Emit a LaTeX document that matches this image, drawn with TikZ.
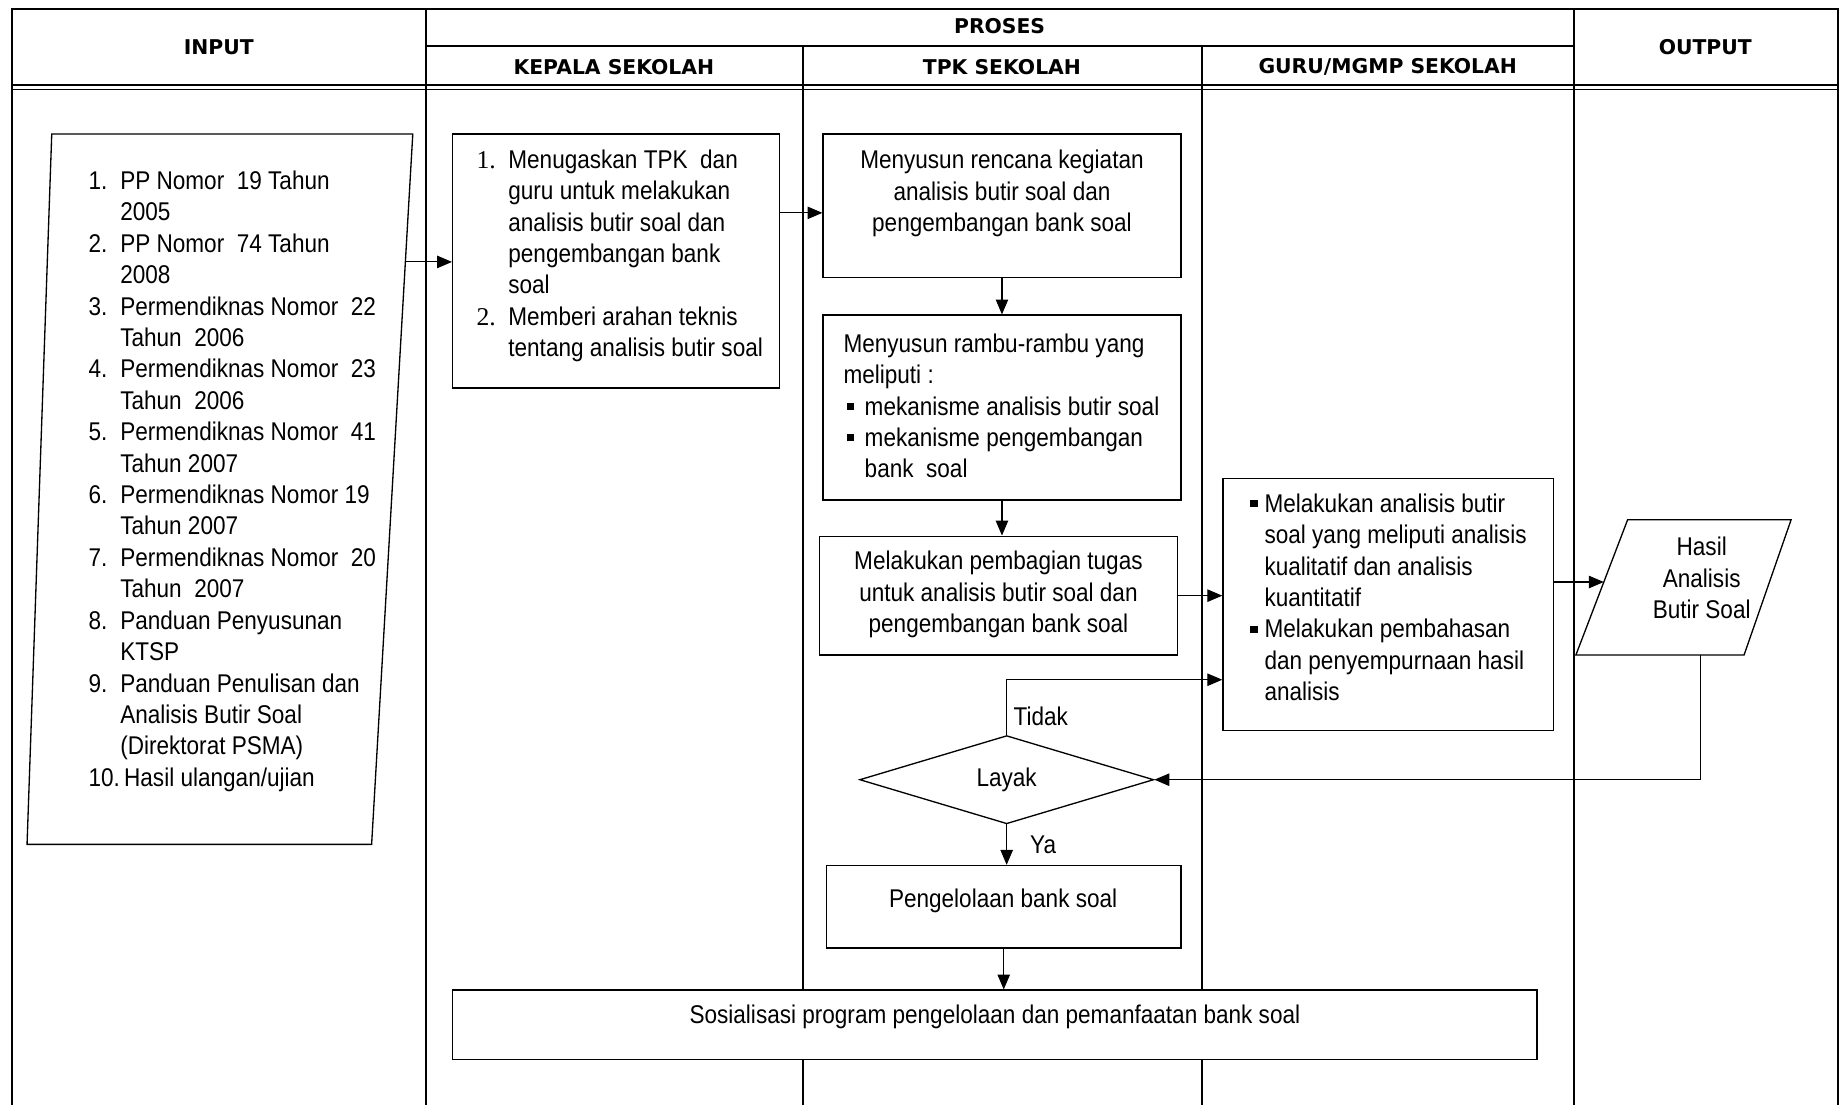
\documentclass[tikz,border=0pt]{standalone}
\usepackage{fontspec}
\setmainfont[FakeStretch=0.88]{Liberation Sans}
\newfontfamily\headfont{DejaVu Sans}
\newfontfamily\numfont{Liberation Serif}
\usetikzlibrary{arrows.meta, positioning, shapes, calc}

\newcommand{\sqbul}{\raisebox{0.2em}{\rule{0.28em}{0.28em}}}
\newcommand{\txtsize}{\fontsize{15.5}{19}\selectfont}

\begin{document}
\begin{tikzpicture}[x=0.025cm, y=-0.025cm,
    lane/.style={line width=1.2pt},
    box/.style={draw, fill=white, rectangle, line width=0.9pt, inner sep=0pt},
    flow/.style={-{Triangle[length=9pt, width=7.5pt]}, line width=0.7pt},
    head/.style={font=\headfont\bfseries\fontsize{12.3}{14}\selectfont, inner sep=0pt},
    txt/.style={font=\txtsize, inner sep=0pt, anchor=base},
    lbl/.style={font=\txtsize, inner sep=0pt}]

    \useasboundingbox (0,0) rectangle (1568,940);

    % Swimlanes
    \draw[lane] (10,940) -- (10,8) -- (1563,8) -- (1563,940);
    \draw[lane] (362,8) -- (362,940);
    \draw[lane] (1338,8) -- (1338,940);
    \draw[lane] (683,39) -- (683,940);
    \draw[lane] (1022,39) -- (1022,940);
    \draw[lane] (362,39) -- (1338,39);
    \draw[lane] (10,72) -- (1563,72);
    \draw[line width=0.8pt] (10,76) -- (1563,76);

    % Header texts
    \node[head] (hInput) at (186,40) {INPUT};
    \node[head] (hProses) at (850,22) {PROSES};
    \node[head] (hKepala) at (522,57) {KEPALA SEKOLAH};
    \node[head] (hTpk) at (852,57) {TPK SEKOLAH};
    \node[head] (hGuru) at (1180,57) {GURU/MGMP SEKOLAH};
    \node[head] (hOutput) at (1450,40) {OUTPUT};

    % Input (data shape)
    \draw[line width=0.8pt] (44,114) coordinate (inTL) -- (351,114) coordinate (inTR)
        -- (316,718) coordinate (inBR) -- (23,718) coordinate (inBL) -- cycle;
    \coordinate (inOut) at ($(inTR)!0.18!(inBR)$);
    \node[txt, anchor=base west] (dasar) at (75,161) {\begin{tabular}[t]{@{}p{0.675cm}@{}l@{}}
        1. & PP Nomor\ \ 19 Tahun\\
           & 2005\\
        2. & PP Nomor\ \ 74 Tahun\\
           & 2008\\
        3. & Permendiknas Nomor\ \ 22\\
           & Tahun\ \ 2006\\
        4. & Permendiknas Nomor\ \ 23\\
           & Tahun\ \ 2006\\
        5. & Permendiknas Nomor\ \ 41\\
           & Tahun 2007\\
        6. & Permendiknas Nomor 19\\
           & Tahun 2007\\
        7. & Permendiknas Nomor\ \ 20\\
           & Tahun\ \ 2007\\
        8. & Panduan Penyusunan\\
           & KTSP\\
        9. & Panduan Penulisan dan\\
           & Analisis Butir Soal\\
           & (Direktorat PSMA)\\
        \multicolumn{2}{@{}l@{}}{10.\,Hasil ulangan/ujian}
    \end{tabular}};

    % Kepala sekolah
    \node[box, minimum width=6.95cm, minimum height=5.4cm] (kepala) at (524,222) {};
    \node[txt, anchor=base west] (tugasKS) at (405,143) {\begin{tabular}[t]{@{}p{0.675cm}@{}l@{}}
        {\numfont 1.} & Menugaskan TPK\ \ dan\\
           & guru untuk melakukan\\
           & analisis butir soal dan\\
           & pengembangan bank\\
           & soal\\
        {\numfont 2.} & Memberi arahan teknis\\
           & tentang analisis butir soal
    \end{tabular}};

    % TPK sekolah
    \node[box, minimum width=7.6cm, minimum height=3.05cm] (rencana) at (852,175) {};
    \node[txt] (rencanaT) at (852,143.5) {\begin{tabular}[t]{@{}c@{}}
        Menyusun rencana kegiatan\\ analisis butir soal dan\\ pengembangan bank soal
    \end{tabular}};

    \node[box, minimum width=7.6cm, minimum height=3.925cm] (rambu) at (852,346.5) {};
    \node[txt, anchor=base west] (rambuT) at (717,299.5) {\begin{tabular}[t]{@{}p{0.45cm}@{}l@{}}
        \multicolumn{2}{@{}l@{}}{Menyusun rambu-rambu yang}\\
        \multicolumn{2}{@{}l@{}}{meliputi :}\\
        \hspace{0.075cm}\sqbul & mekanisme analisis butir soal\\
        \hspace{0.075cm}\sqbul & mekanisme pengembangan\\
           & bank\ \ soal
    \end{tabular}};

    \node[box, minimum width=7.6cm, minimum height=2.525cm] (bagi) at (849,506.5) {};
    \node[txt] (bagiT) at (849,484.5) {\begin{tabular}[t]{@{}c@{}}
        Melakukan pembagian tugas\\ untuk analisis butir soal dan\\ pengembangan bank soal
    \end{tabular}};

    \node[draw, diamond, line width=0.8pt, minimum width=6.25cm, minimum height=1.875cm,
        inner sep=0pt, font=\txtsize] (layak) at (856,663) {Layak};

    \node[box, minimum width=7.525cm, minimum height=1.75cm] (kelola) at (853.5,771) {};
    \node[txt] (kelolaT) at (853,771.5) {Pengelolaan bank soal};

    \node[box, minimum width=23.05cm, minimum height=1.475cm] (sosial) at (846,871.5) {};
    \node[txt] (sosialT) at (846,870.5) {Sosialisasi program pengelolaan dan pemanfaatan bank soal};

    % Guru/MGMP
    \node[box, minimum width=7.025cm, minimum height=5.35cm] (guru) at (1180.5,514) {};
    \node[txt, anchor=base west] (guruT) at (1063,435.5) {\begin{tabular}[t]{@{}p{0.3cm}@{}l@{}}
        \sqbul & Melakukan analisis butir\\
           & soal yang meliputi analisis\\
           & kualitatif dan analisis\\
           & kuantitatif\\
        \sqbul & Melakukan pembahasan\\
           & dan penyempurnaan hasil\\
           & analisis
    \end{tabular}};

    % Output (data shape)
    \draw[line width=0.8pt] (1384,442) coordinate (outTL) -- (1523,442) coordinate (outTR)
        -- (1483,557) coordinate (outBR) -- (1340,557) coordinate (outBL) -- cycle;
    \coordinate (outL) at ($(outTL)!0.46!(outBL)$);
    \coordinate (outB) at ($(outBL)!0.743!(outBR)$);
    \node[txt] (hasil) at (1447,472.5) {\begin{tabular}[t]{@{}c@{}}
        Hasil\\ Analisis\\ Butir Soal
    \end{tabular}};

    % Connectors
    \coordinate (k2r) at (0,181);
    \coordinate (tdk) at (0,578);
    \draw[flow] (inOut) -- (inOut -| kepala.west);
    \draw[flow] (k2r -| kepala.east) -- (k2r -| rencana.west);
    \draw[flow] (rencana.south) -- (rencana.south |- rambu.north);
    \draw[flow] (rambu.south) -- (rambu.south |- bagi.north);
    \draw[flow] (bagi.east) -- (bagi.east -| guru.west);
    \draw[flow] (layak.north) -- (layak.north |- tdk) -- (tdk -| guru.west);
    \draw[flow] (layak.south) -- (layak.south |- kelola.north);
    \draw[flow] (guru.east |- outL) -- (outL);
    \draw[flow] (outB) -- (outB |- layak.east) -- (layak.east);
    \draw[flow] (kelola.south) -- (kelola.south |- sosial.north);

    \node[lbl] (tidak) at (885,609) {Tidak};
    \node[lbl] (ya) at (887,718) {Ya};
\end{tikzpicture}
\end{document}
